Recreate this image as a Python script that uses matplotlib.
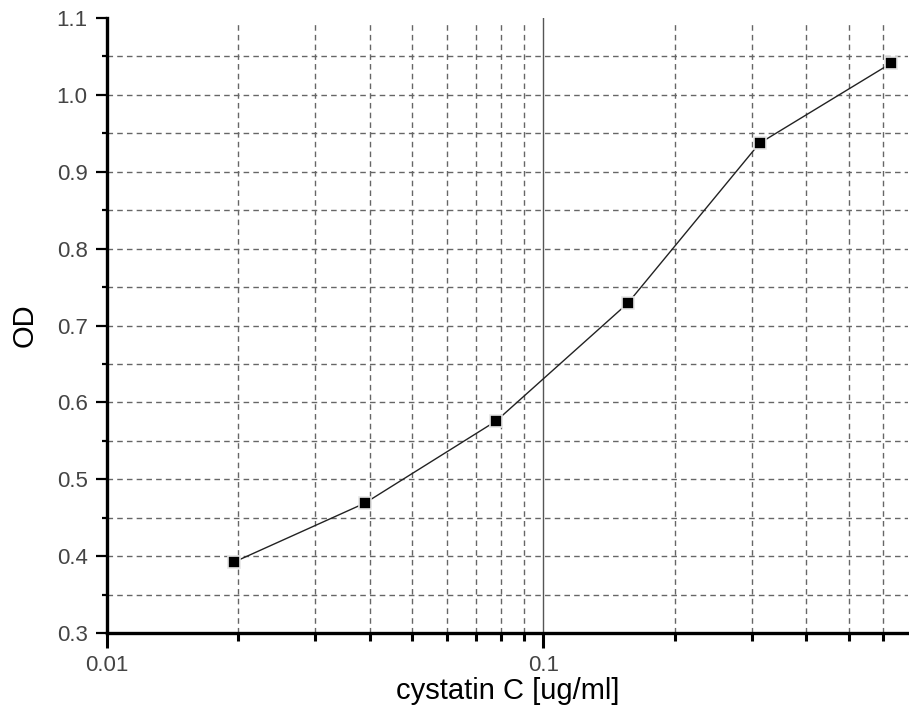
import matplotlib
matplotlib.use("Agg")
import matplotlib.pyplot as plt
from matplotlib.ticker import FixedLocator, NullFormatter, FixedFormatter, MultipleLocator
import numpy as np

plt.rcParams['font.family'] = ['Liberation Sans', 'DejaVu Sans']

conc = [0.0195, 0.039, 0.078, 0.156, 0.3125, 0.625]
od = [0.392, 0.469, 0.576, 0.729, 0.937, 1.041]
x_major = [0.01, 0.1]
x_major_labels = ["0.01", "0.1"]
y_major = [0.3, 0.4, 0.5, 0.6, 0.7, 0.8, 0.9, 1.0, 1.1]
y_major_labels = ["0.3", "0.4", "0.5", "0.6", "0.7", "0.8", "0.9", "1.0", "1.1"]

fig = plt.figure(figsize=(9.09, 7.28), dpi=100)
ax = fig.add_axes([107/909, 1-633/728, (908-107)/909, (633-18)/728])

ax.set_xscale('log')
ax.set_xlim(0.01, 0.684)
ax.set_ylim(0.3, 1.1)

# grid
grid_kw = dict(color='#666666', linestyle=(0, (4, 3)), linewidth=1.0, zorder=1)
for v in np.arange(0.35, 1.08, 0.05):
    ax.axhline(v, **grid_kw)
minor_x = [m * d for d in (0.01, 0.1) for m in range(2, 10) if m * d < 0.684]
for v in minor_x:
    ax.axvline(v, ymax=0.994, **grid_kw)
ax.axvline(0.1, color='#555555', linewidth=1.0, zorder=1)

ax.plot(conc, od, color='#222222', linewidth=1.0, zorder=2)
ax.plot(conc, od, linestyle='none', marker='s', markersize=9,
        markerfacecolor='black', markeredgecolor='#e6e6e6', markeredgewidth=1.2, zorder=3)

ax.xaxis.set_major_locator(FixedLocator(x_major))
ax.xaxis.set_major_formatter(FixedFormatter(x_major_labels))
ax.xaxis.set_minor_locator(FixedLocator(minor_x))
ax.xaxis.set_minor_formatter(NullFormatter())
ax.yaxis.set_major_locator(FixedLocator(y_major))
ax.yaxis.set_major_formatter(FixedFormatter(y_major_labels))
ax.yaxis.set_minor_locator(MultipleLocator(0.05))

for s in ('top', 'right'):
    ax.spines[s].set_visible(False)
for s in ('left', 'bottom'):
    ax.spines[s].set_linewidth(2.4)
    ax.spines[s].set_color('black')

ax.tick_params(axis='x', which='major', direction='out', length=10.5, width=2.2, pad=5,
               labelsize=16, labelcolor='#444444')
ax.tick_params(axis='x', which='minor', direction='out', length=6, width=2.2)
ax.tick_params(axis='y', which='major', direction='out', length=8, width=1.6, pad=6,
               labelsize=16, labelcolor='#444444')
ax.tick_params(axis='y', which='minor', direction='out', length=3.5, width=1.6)

ax.set_xlabel('cystatin C [ug/ml]', fontsize=21, labelpad=1)
ax.set_ylabel('OD', fontsize=21, labelpad=13)

fig.savefig('out.png', dpi=100)
